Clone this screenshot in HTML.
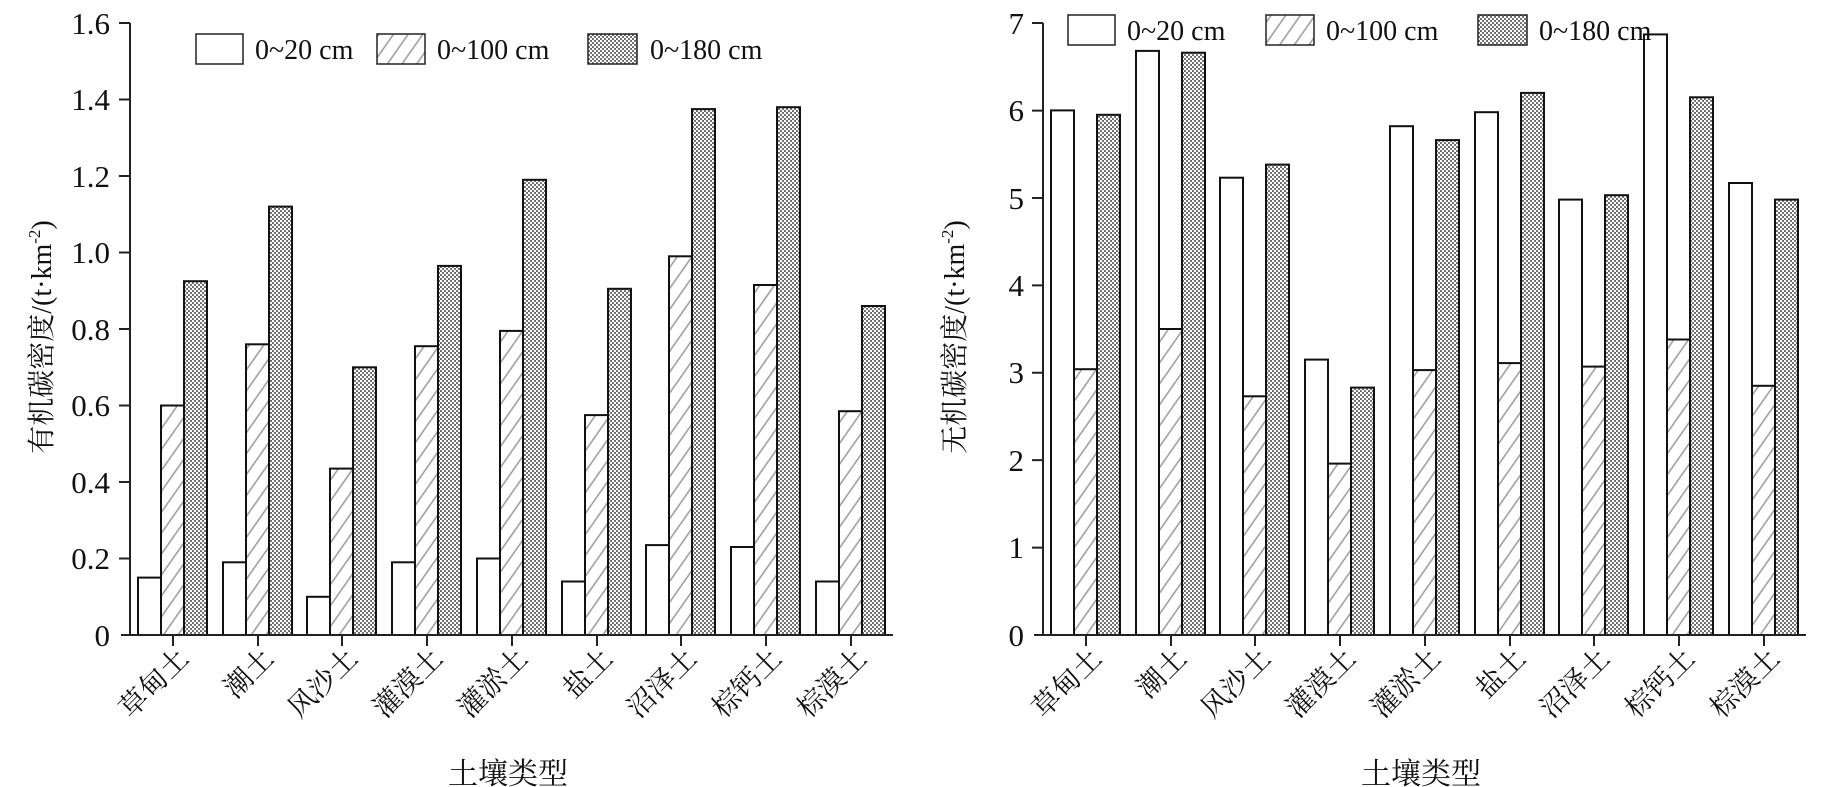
<!DOCTYPE html>
<html><head><meta charset="utf-8"><style>
html,body{margin:0;padding:0;background:#fff;}
svg{display:block;}
.t{font-family:"Liberation Serif","Noto Serif CJK SC",serif;fill:#111;}
.c{font-family:"Liberation Serif","Noto Serif CJK SC",serif;fill:#111;}
</style></head><body>
<svg width="1831" height="787" viewBox="0 0 1831 787" xmlns="http://www.w3.org/2000/svg">
<defs>
<pattern id="h" patternUnits="userSpaceOnUse" width="12" height="12" patternTransform="rotate(-55)">
<rect width="12" height="12" fill="#fff"/><line x1="0" y1="6" x2="12" y2="6" stroke="#999" stroke-width="1.5"/>
</pattern>
<pattern id="x" patternUnits="userSpaceOnUse" width="4" height="4">
<rect width="4" height="4" fill="#666"/><circle cx="1" cy="1" r="1.2" fill="#fff"/><circle cx="3" cy="3" r="1.2" fill="#fff"/>
</pattern>
</defs>
<g stroke="#111" stroke-width="2">
<rect x="138" y="577.6" width="23" height="57.4" fill="#fff"/><rect x="161" y="405.5" width="23" height="229.5" fill="url(#h)"/><rect x="184" y="281.2" width="23" height="353.8" fill="url(#x)"/>
<rect x="223" y="562.3" width="23" height="72.7" fill="#fff"/><rect x="246" y="344.3" width="23" height="290.7" fill="url(#h)"/><rect x="269" y="206.6" width="23" height="428.4" fill="url(#x)"/>
<rect x="307" y="596.8" width="23" height="38.2" fill="#fff"/><rect x="330" y="468.6" width="23" height="166.4" fill="url(#h)"/><rect x="353" y="367.3" width="23" height="267.7" fill="url(#x)"/>
<rect x="392" y="562.3" width="23" height="72.7" fill="#fff"/><rect x="415" y="346.2" width="23" height="288.8" fill="url(#h)"/><rect x="438" y="265.9" width="23" height="369.1" fill="url(#x)"/>
<rect x="477" y="558.5" width="23" height="76.5" fill="#fff"/><rect x="500" y="330.9" width="23" height="304.1" fill="url(#h)"/><rect x="523" y="179.8" width="23" height="455.2" fill="url(#x)"/>
<rect x="562" y="581.5" width="23" height="53.5" fill="#fff"/><rect x="585" y="415.1" width="23" height="219.9" fill="url(#h)"/><rect x="608" y="288.8" width="23" height="346.2" fill="url(#x)"/>
<rect x="646" y="545.1" width="23" height="89.9" fill="#fff"/><rect x="669" y="256.3" width="23" height="378.7" fill="url(#h)"/><rect x="692" y="109.1" width="23" height="525.9" fill="url(#x)"/>
<rect x="731" y="547" width="23" height="88" fill="#fff"/><rect x="754" y="285" width="23" height="350" fill="url(#h)"/><rect x="777" y="107.2" width="23" height="527.8" fill="url(#x)"/>
<rect x="816" y="581.5" width="23" height="53.5" fill="#fff"/><rect x="839" y="411.2" width="23" height="223.8" fill="url(#h)"/><rect x="862" y="306" width="23" height="329" fill="url(#x)"/>
<rect x="1051" y="110.4" width="23" height="524.6" fill="#fff"/><rect x="1074" y="369.2" width="23" height="265.8" fill="url(#h)"/><rect x="1097" y="114.8" width="23" height="520.2" fill="url(#x)"/>
<rect x="1136" y="50.9" width="23" height="584.1" fill="#fff"/><rect x="1159" y="329" width="23" height="306" fill="url(#h)"/><rect x="1182" y="52.7" width="23" height="582.3" fill="url(#x)"/>
<rect x="1220" y="177.7" width="23" height="457.3" fill="#fff"/><rect x="1243" y="396.3" width="23" height="238.7" fill="url(#h)"/><rect x="1266" y="164.6" width="23" height="470.4" fill="url(#x)"/>
<rect x="1305" y="359.6" width="23" height="275.4" fill="#fff"/><rect x="1328" y="463.6" width="23" height="171.4" fill="url(#h)"/><rect x="1351" y="387.6" width="23" height="247.4" fill="url(#x)"/>
<rect x="1390" y="126.2" width="23" height="508.8" fill="#fff"/><rect x="1413" y="370.1" width="23" height="264.9" fill="url(#h)"/><rect x="1436" y="140.1" width="23" height="494.9" fill="url(#x)"/>
<rect x="1475" y="112.2" width="23" height="522.8" fill="#fff"/><rect x="1498" y="363.1" width="23" height="271.9" fill="url(#h)"/><rect x="1521" y="92.9" width="23" height="542.1" fill="url(#x)"/>
<rect x="1559" y="199.6" width="23" height="435.4" fill="#fff"/><rect x="1582" y="366.6" width="23" height="268.4" fill="url(#h)"/><rect x="1605" y="195.2" width="23" height="439.8" fill="url(#x)"/>
<rect x="1644" y="34.4" width="23" height="600.6" fill="#fff"/><rect x="1667" y="339.5" width="23" height="295.5" fill="url(#h)"/><rect x="1690" y="97.3" width="23" height="537.7" fill="url(#x)"/>
<rect x="1729" y="183" width="23" height="452" fill="#fff"/><rect x="1752" y="385.8" width="23" height="249.2" fill="url(#h)"/><rect x="1775" y="199.6" width="23" height="435.4" fill="url(#x)"/>
</g>
<g stroke="#222" stroke-width="2" fill="none">
<path d="M130 23 V635 M121 635 H893"/>
<path d="M119 23H130 M119 99.5H130 M119 176H130 M119 252.5H130 M119 329H130 M119 405.5H130 M119 482H130 M119 558.5H130"/>
<path d="M173 635v11 M258 635v11 M342 635v11 M427 635v11 M512 635v11 M597 635v11 M681 635v11 M766 635v11 M851 635v11"/>
<path d="M1043 23 V635 M1034 635 H1806"/>
<path d="M1032 23H1043 M1032 110.6H1043 M1032 198H1043 M1032 285.4H1043 M1032 372.7H1043 M1032 460.1H1043 M1032 547.6H1043"/>
<path d="M1086 635v11 M1171 635v11 M1255 635v11 M1340 635v11 M1425 635v11 M1510 635v11 M1594 635v11 M1679 635v11 M1764 635v11"/>
</g>
<g class="t" font-size="31" text-anchor="end">
<text x="110" y="34">1.6</text><text x="110" y="110">1.4</text><text x="110" y="187">1.2</text><text x="110" y="263">1.0</text><text x="110" y="340">0.8</text><text x="110" y="416">0.6</text><text x="110" y="493">0.4</text><text x="110" y="569">0.2</text><text x="110" y="646">0</text>
<text x="1024" y="34">7</text><text x="1024" y="121">6</text><text x="1024" y="209">5</text><text x="1024" y="296">4</text><text x="1024" y="383">3</text><text x="1024" y="471">2</text><text x="1024" y="558">1</text><text x="1024" y="646">0</text>
</g>
<text class="c" font-size="28" text-anchor="middle" transform="translate(51,337) rotate(-90)">有机碳密度/(t·km<tspan font-size="17" dy="-11">-2</tspan><tspan dy="11">)</tspan></text>
<text class="c" font-size="28" text-anchor="middle" transform="translate(964,337) rotate(-90)">无机碳密度/(t·km<tspan font-size="17" dy="-11">-2</tspan><tspan dy="11">)</tspan></text>
<g class="c" font-size="28" text-anchor="end">
<text transform="translate(190,660) rotate(-45)">草甸土</text>
<text transform="translate(275,660) rotate(-45)">潮土</text>
<text transform="translate(359,660) rotate(-45)">风沙土</text>
<text transform="translate(444,660) rotate(-45)">灌漠土</text>
<text transform="translate(529,660) rotate(-45)">灌淤土</text>
<text transform="translate(614,660) rotate(-45)">盐土</text>
<text transform="translate(698,660) rotate(-45)">沼泽土</text>
<text transform="translate(783,660) rotate(-45)">棕钙土</text>
<text transform="translate(868,660) rotate(-45)">棕漠土</text>
<text transform="translate(1103,660) rotate(-45)">草甸土</text>
<text transform="translate(1188,660) rotate(-45)">潮土</text>
<text transform="translate(1272,660) rotate(-45)">风沙土</text>
<text transform="translate(1357,660) rotate(-45)">灌漠土</text>
<text transform="translate(1442,660) rotate(-45)">灌淤土</text>
<text transform="translate(1527,660) rotate(-45)">盐土</text>
<text transform="translate(1611,660) rotate(-45)">沼泽土</text>
<text transform="translate(1696,660) rotate(-45)">棕钙土</text>
<text transform="translate(1781,660) rotate(-45)">棕漠土</text>
</g>
<g class="c" font-size="30" text-anchor="middle">
<text x="508" y="784">土壤类型</text>
<text x="1421" y="784">土壤类型</text>
</g>
<g stroke="#222" stroke-width="1.5">
<rect x="196" y="34" width="47" height="30" fill="#fff"/>
<rect x="377" y="34" width="48" height="30" fill="url(#h)"/>
<rect x="588" y="34" width="49" height="30" fill="url(#x)"/>
<rect x="1068" y="15" width="47" height="30" fill="#fff"/>
<rect x="1266" y="15" width="48" height="30" fill="url(#h)"/>
<rect x="1478" y="15" width="49" height="30" fill="url(#x)"/>
</g>
<g class="t" font-size="28">
<text x="255" y="59">0~20 cm</text><text x="437" y="59">0~100 cm</text><text x="650" y="59">0~180 cm</text>
<text x="1127" y="40">0~20 cm</text><text x="1326" y="40">0~100 cm</text><text x="1539" y="40">0~180 cm</text>
</g>
</svg>
</body></html>
